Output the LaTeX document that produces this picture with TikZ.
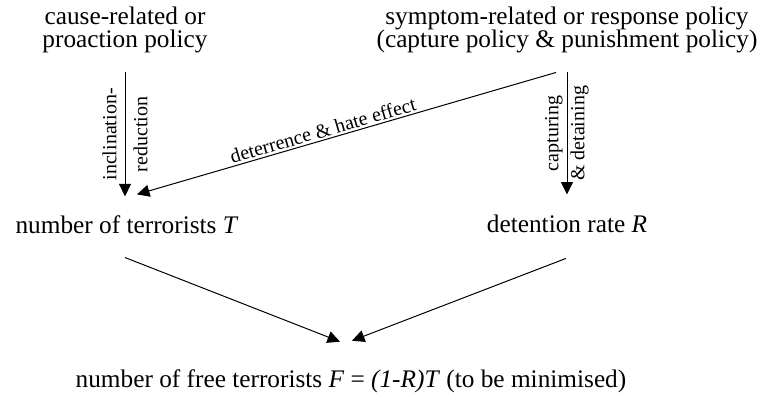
\documentclass[tikz,border=0pt]{standalone}
\usepackage{fontspec}
\setmainfont{Liberation Serif}
\usetikzlibrary{arrows.meta, positioning, calc}

\begin{document}
\begin{tikzpicture}[
    x=1pt, y=1pt,
    policy/.style={font=\fontsize{25.3}{23.5}\selectfont, align=center,
                   inner sep=0pt},
    quantity/.style={font=\fontsize{25.3}{23.5}\selectfont, inner sep=0pt},
    effect/.style={font=\fontsize{20}{24}\selectfont, align=center,
                   inner sep=0pt},
    arrow/.style={-{Triangle[length=12.5pt, width=12pt]}, line width=1pt},
]
\useasboundingbox (0,0) rectangle (760,-397);
\node[policy] (cause) at (125,-30) {cause-related or\\proaction policy};
\node[policy] (symp) at (567,-30)
    {symptom-related or response policy\\(capture policy \& punishment policy)};
\node[quantity] (terr) at (127,-224.3) {number of terrorists \textit{T}};
\node[quantity] (det) at (567,-224.3) {detention rate \textit{R}};
\node[quantity] (free) at (351,-381.5)
    {number of free terrorists \textit{F} = \textit{(1-R)T} (to be minimised)};

\draw[arrow] ($(cause.south)+(0,-19)$) -- node[effect, rotate=90, midway]
    {inclination-\\[7pt]reduction} ($(terr.north)+(-2,18.7)$);
\draw[arrow] ($(symp.south)+(0,-19)$) -- node[effect, rotate=90, midway]
    {capturing\\[2pt]\& detaining} ($(det.north)+(0,20.7)$);
\draw[arrow] ($(symp.south)+(-11,-19)$) -- node[effect, sloped, above,
    pos=0.55, inner sep=2pt] {deterrence \& hate effect}
    ($(terr.north)+(10,20.7)$);
\draw[arrow] ($(terr.south)+(-2,-24)$) -- ($(free.north)+(-11,28)$);
\draw[arrow] ($(det.south)+(-1,-25)$) -- ($(free.north)+(1,29)$);
\end{tikzpicture}
\end{document}
